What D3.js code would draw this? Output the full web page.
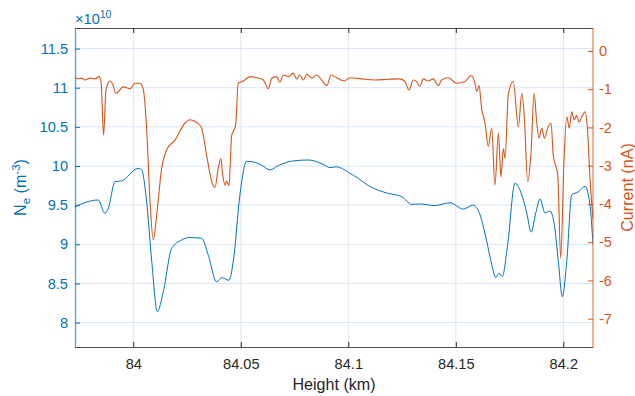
<!DOCTYPE html>
<html>
<head>
<meta charset="utf-8">
<script src="https://cdn.jsdelivr.net/npm/d3@7"></script>
<style>
  body { margin: 0; background: #fff; }
  svg { display: block; font-family: "Liberation Sans", Arial, sans-serif; }
  .axis text { font-size: 14.6px; }
  .axis .domain { display: none; }
</style>
</head>
<body>
<svg id="chart" width="635" height="396"></svg>
<script>
// --- Data ---
// electron density (x 1e10 m^-3) against height
const neHeight = [83.9729, 83.9837, 83.9868, 83.9884, 83.9915, 83.9946, 84.0023, 84.0039, 84.0062, 84.0086,
  84.0112, 84.0140, 84.0179, 84.0225, 84.0256, 84.0318, 84.0349, 84.0388, 84.0411, 84.0445,
  84.0465, 84.0496, 84.0527, 84.0551, 84.0597, 84.0636, 84.0674, 84.0744, 84.0814, 84.0884,
  84.0915, 84.0946, 84.1000, 84.1047, 84.1093, 84.1140, 84.1186, 84.1248, 84.1295, 84.1333,
  84.1403, 84.1473, 84.1535, 84.1581, 84.1613, 84.1644, 84.1664, 84.1686, 84.1701, 84.1716,
  84.1741, 84.1775, 84.1807, 84.1830, 84.1850, 84.1872, 84.1892, 84.1915, 84.1938, 84.1958,
  84.1977, 84.1995, 84.2016, 84.2039, 84.2070, 84.2101, 84.2124, 84.2138];
const neValues = [9.48, 9.566, 9.396, 9.46, 9.80, 9.81, 9.97, 9.95, 9.545, 8.78,
  8.14, 8.40, 8.95, 9.055, 9.086, 9.077, 8.86, 8.52, 8.575, 8.54,
  8.78, 9.63, 10.06, 10.056, 10.01, 9.95, 10.005, 10.065, 10.077, 10.02,
  9.98, 9.99, 9.92, 9.84, 9.75, 9.69, 9.65, 9.61, 9.51, 9.515,
  9.495, 9.53, 9.45, 9.50, 9.375, 9.035, 8.78, 8.575, 8.63, 8.59,
  8.99, 9.78, 9.63, 9.40, 9.155, 9.40, 9.58, 9.40, 9.425, 9.25,
  8.78, 8.33, 8.78, 9.63, 9.67, 9.74, 9.50, 9.0];

// probe current (nA) against height
const curHeight = [83.9729, 83.9744, 83.9760, 83.9775, 83.9799, 83.9822, 83.9840, 83.9850, 83.9862, 83.9873,
  83.9892, 83.9902, 83.9920, 83.9938, 83.9953, 83.9985, 84.0008, 84.0031, 84.0047, 84.0062,
  84.0078, 84.0093, 84.0109, 84.0132, 84.0155, 84.0194, 84.0240, 84.0264, 84.0295, 84.0318,
  84.0341, 84.0365, 84.0380, 84.0395, 84.0407, 84.0416, 84.0427, 84.0434, 84.0445, 84.0458,
  84.0465, 84.0476, 84.0488, 84.0512, 84.0543, 84.0574, 84.0605, 84.0628, 84.0644, 84.0667,
  84.0682, 84.0698, 84.0721, 84.0744, 84.0760, 84.0775, 84.0791, 84.0807, 84.0830, 84.0853,
  84.0876, 84.0900, 84.0920, 84.0946, 84.0981, 84.1008, 84.1062, 84.1124, 84.1186, 84.1240,
  84.1264, 84.1282, 84.1302, 84.1318, 84.1333, 84.1349, 84.1372, 84.1395, 84.1419, 84.1434,
  84.1465, 84.1504, 84.1543, 84.1571, 84.1589, 84.1597, 84.1608, 84.1620, 84.1636, 84.1651,
  84.1667, 84.1682, 84.1698, 84.1710, 84.1721, 84.1729, 84.1744, 84.1767, 84.1791, 84.1807,
  84.1819, 84.1834, 84.1850, 84.1864, 84.1876, 84.1887, 84.1900, 84.1912, 84.1927, 84.1943,
  84.1953, 84.1974, 84.1988, 84.2003, 84.2016, 84.2028, 84.2039, 84.2051, 84.2062, 84.2073,
  84.2086, 84.2101, 84.2112, 84.2124, 84.2138];
const curValues = [-0.70, -0.73, -0.71, -0.76, -0.71, -0.73, -0.67, -0.80, -2.20, -1.02,
  -0.785, -0.845, -1.11, -1.02, -0.94, -0.99, -0.845, -0.845, -1.02, -2.02,
  -3.94, -4.94, -4.29, -3.07, -2.59, -2.33, -1.89, -1.80, -1.87, -2.02,
  -2.72, -3.42, -3.57, -3.07, -2.82, -3.24, -3.51, -3.40, -3.52, -2.20,
  -2.11, -1.94, -0.845, -0.785, -0.67, -0.70, -0.76, -0.99, -0.714, -0.67,
  -0.82, -0.63, -0.67, -0.58, -0.73, -0.63, -0.76, -0.61, -0.71, -0.63,
  -0.76, -0.905, -0.63, -0.70, -0.785, -0.70, -0.73, -0.76, -0.74, -0.73,
  -0.80, -1.02, -0.76, -0.80, -0.93, -0.73, -0.785, -0.73, -0.905, -0.76,
  -0.70, -0.845, -0.80, -0.64, -0.845, -1.06, -0.905, -1.50, -1.89, -2.50,
  -2.02, -3.51, -2.15, -3.29, -2.55, -2.81, -1.15, -0.80, -1.98, -1.11,
  -1.76, -3.42, -2.63, -1.11, -1.85, -2.28, -2.02, -2.28, -2.02, -1.89,
  -2.72, -3.24, -5.42, -2.89, -1.72, -2.02, -1.59, -1.80, -1.69, -1.865,
  -1.72, -1.59, -2.02, -3.33, -4.4];

const xTicks = [84, 84.05, 84.1, 84.15, 84.2];
const xTickLabels = ["84", "84.05", "84.1", "84.15", "84.2"];
const neTicks = [8, 8.5, 9, 9.5, 10, 10.5, 11, 11.5];
const neTickLabels = ["8", "8.5", "9", "9.5", "10", "10.5", "11", "11.5"];
const curTicks = [-7, -6, -5, -4, -3, -2, -1, 0];
const curTickLabels = ["-7", "-6", "-5", "-4", "-3", "-2", "-1", "0"];

// --- Layout ---
const BLUE = "#0072BD", ORANGE = "#D95319", DARK = "#262626";
const plot = { left: 75, top: 28, right: 593, bottom: 347 };

const svg = d3.select("#chart");

const x = d3.scaleLinear().domain([83.9729, 84.2138]).range([plot.left, plot.right]);
const yL = d3.scaleLinear().domain([7.688, 11.763]).range([plot.bottom, plot.top]);
const yR = d3.scaleLinear().domain([-7.74, 0.60]).range([plot.bottom, plot.top]);

// grid
const grid = svg.append("g");
grid.selectAll(".gx").data(xTicks).enter().append("line")
  .attr("x1", d => x(d)).attr("x2", d => x(d))
  .attr("y1", plot.top).attr("y2", plot.bottom)
  .attr("stroke", "#e3e3e3").attr("stroke-width", 1);
grid.selectAll(".gy").data(neTicks).enter().append("line")
  .attr("x1", plot.left).attr("x2", plot.right)
  .attr("y1", d => yL(d)).attr("y2", d => yL(d))
  .attr("stroke", "#d6e6f4").attr("stroke-width", 1);

// lines
const clip = svg.append("clipPath").attr("id", "clip").append("rect")
  .attr("x", plot.left).attr("y", plot.top)
  .attr("width", plot.right - plot.left).attr("height", plot.bottom - plot.top);

const neLine = d3.line().x(d => x(d[0])).y(d => yL(d[1])).curve(d3.curveMonotoneX);
const curLine = d3.line().x(d => x(d[0])).y(d => yR(d[1])).curve(d3.curveMonotoneX);

svg.append("path")
  .datum(neHeight.map((h, i) => [h, neValues[i]]))
  .attr("clip-path", "url(#clip)")
  .attr("fill", "none").attr("stroke", BLUE).attr("stroke-width", 1)
  .attr("d", neLine);

svg.append("path")
  .datum(curHeight.map((h, i) => [h, curValues[i]]))
  .attr("clip-path", "url(#clip)")
  .attr("fill", "none").attr("stroke", ORANGE).attr("stroke-width", 1.1)
  .attr("d", curLine);

// axes
const xAxis = svg.append("g").attr("class", "axis")
  .attr("transform", `translate(0,${plot.bottom})`)
  .call(d3.axisBottom(x).tickValues(xTicks).tickFormat((d, i) => xTickLabels[i])
    .tickSize(-5).tickPadding(11.6));
xAxis.selectAll("line").attr("stroke", DARK);
xAxis.selectAll("text").attr("fill", DARK);

const topAxis = svg.append("g").attr("class", "axis")
  .attr("transform", `translate(0,${plot.top})`)
  .call(d3.axisTop(x).tickValues(xTicks).tickFormat("").tickSize(-5));
topAxis.selectAll("line").attr("stroke", DARK);

const leftAxis = svg.append("g").attr("class", "axis")
  .attr("transform", `translate(${plot.left},0)`)
  .call(d3.axisLeft(yL).tickValues(neTicks).tickFormat((d, i) => neTickLabels[i])
    .tickSize(-5).tickPadding(7));
leftAxis.selectAll("line").attr("stroke", BLUE);
leftAxis.selectAll("text").attr("fill", BLUE);

const rightAxis = svg.append("g").attr("class", "axis")
  .attr("transform", `translate(${plot.right},0)`)
  .call(d3.axisRight(yR).tickValues(curTicks).tickFormat((d, i) => curTickLabels[i])
    .tickSize(-5).tickPadding(6));
rightAxis.selectAll("line").attr("stroke", ORANGE);
rightAxis.selectAll("text").attr("fill", ORANGE);

// box edges
svg.append("line").attr("x1", plot.left).attr("x2", plot.right)
  .attr("y1", plot.top + 0.5).attr("y2", plot.top + 0.5).attr("stroke", DARK).attr("stroke-opacity", 0.8);
svg.append("line").attr("x1", plot.left).attr("x2", plot.right)
  .attr("y1", plot.bottom + 0.5).attr("y2", plot.bottom + 0.5).attr("stroke", DARK).attr("stroke-opacity", 0.8);
svg.append("line").attr("x1", plot.left + 0.5).attr("x2", plot.left + 0.5)
  .attr("y1", plot.top).attr("y2", plot.bottom + 1).attr("stroke", BLUE).attr("stroke-width", 1.5).attr("stroke-opacity", 0.6);
svg.append("line").attr("x1", plot.right).attr("x2", plot.right)
  .attr("y1", plot.top).attr("y2", plot.bottom + 1).attr("stroke", ORANGE).attr("stroke-width", 1.5).attr("stroke-opacity", 0.6);

// labels
svg.append("text")
  .attr("x", (plot.left + plot.right) / 2).attr("y", 389.5)
  .attr("text-anchor", "middle").attr("fill", DARK).attr("font-size", "16.1px")
  .text("Height (km)");

const yLabel = svg.append("text")
  .attr("transform", `translate(25.5,${(plot.top + plot.bottom) / 2}) rotate(-90)`)
  .attr("text-anchor", "middle").attr("fill", BLUE).attr("font-size", "16.1px");
yLabel.append("tspan").text("N");
yLabel.append("tspan").attr("font-size", "11.5px").attr("dy", 4).text("e");
yLabel.append("tspan").attr("dy", -4).text(" (m");
yLabel.append("tspan").attr("font-size", "11.5px").attr("dy", -6).text("-3");
yLabel.append("tspan").attr("dy", 6).text(")");

svg.append("text")
  .attr("transform", `translate(633,${(plot.top + plot.bottom) / 2}) rotate(-90)`)
  .attr("text-anchor", "middle").attr("fill", ORANGE).attr("font-size", "16.1px")
  .text("Current (nA)");

const expo = svg.append("text")
  .attr("x", 75).attr("y", 24).attr("fill", BLUE).attr("font-size", "14.6px");
expo.append("tspan").text("\u00d710");
expo.append("tspan").attr("font-size", "10.5px").attr("dy", -6).text("10");
</script>
</body>
</html>
